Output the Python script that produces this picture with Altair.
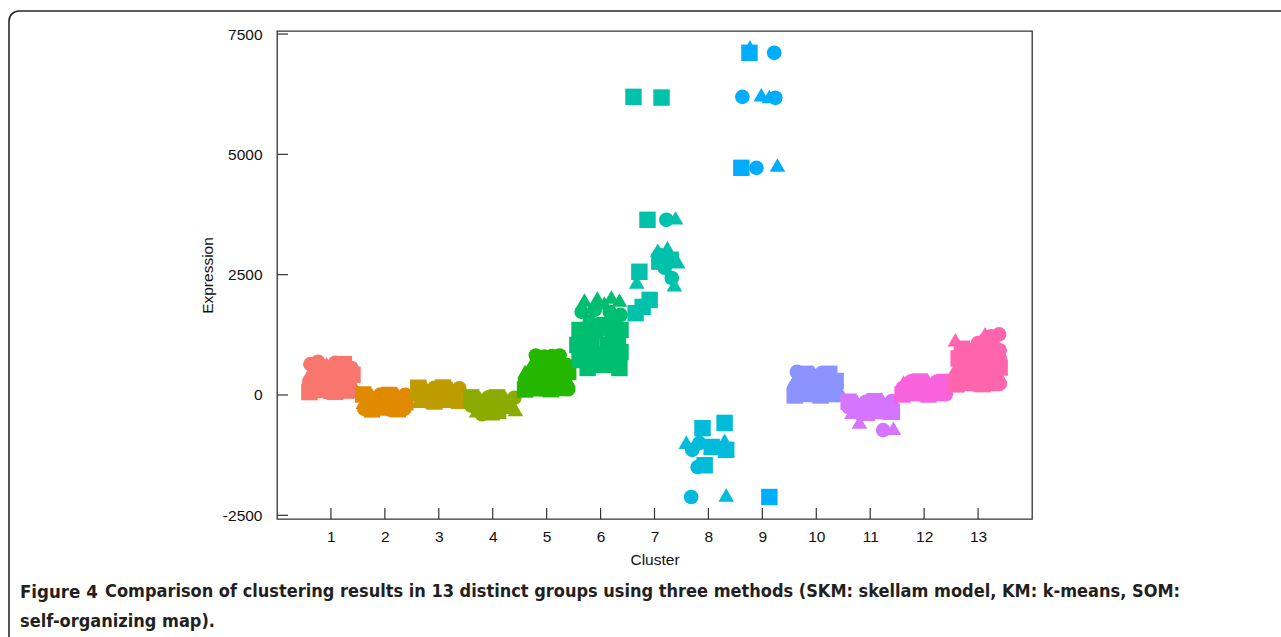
import altair as alt
import pandas as pd

# ---- data: (jitter offset from cluster centre, expression, method)
c1 = [(-0.40, 60, "SOM"), (-0.24, 70, "KM"), (-0.08, 60, "SKM"), (0.08, 65, "SOM"), (0.24, 60, "KM"), (0.40, 70, "SKM"),
      (-0.40, 250, "SKM"), (-0.24, 240, "SOM"), (-0.08, 260, "KM"), (0.08, 250, "SKM"), (0.24, 245, "SOM"), (0.40, 255, "KM"),
      (-0.40, 440, "KM"), (-0.24, 450, "SKM"), (-0.08, 430, "SOM"), (0.08, 445, "KM"), (0.24, 440, "SKM"), (0.40, 420, "SOM"),
      (-0.38, 640, "SKM"), (-0.24, 690, "SKM"), (-0.08, 650, "KM"), (0.08, 670, "SKM"), (0.24, 640, "SOM"), (0.38, 560, "SKM")]
c2 = [(-0.40, 10, "SOM"), (-0.24, 5, "KM"), (-0.08, 10, "SKM"), (0.08, 0, "SOM"), (0.24, 10, "KM"), (0.38, 5, "SKM"),
      (-0.40, -150, "KM"), (-0.24, -150, "SKM"), (-0.08, -140, "SOM"), (0.08, -150, "KM"), (0.24, -145, "SKM"), (0.38, -150, "SOM"),
      (-0.38, -290, "SKM"), (-0.24, -300, "SOM"), (-0.08, -290, "KM"), (0.08, -300, "SKM"), (0.24, -295, "SOM"), (0.36, -290, "SKM")]
c3 = [(-0.38, 150, "SOM"), (-0.24, 160, "KM"), (-0.08, 150, "SKM"), (0.08, 155, "SOM"), (0.24, 150, "KM"), (0.38, 140, "SKM"),
      (-0.40, 0, "SKM"), (-0.24, 0, "SOM"), (-0.08, 10, "KM"), (0.08, 0, "SKM"), (0.24, 5, "SOM"), (0.40, 0, "KM"),
      (-0.38, -130, "KM"), (-0.24, -130, "SKM"), (-0.08, -135, "SOM"), (0.08, -130, "KM"), (0.24, -130, "SKM"), (0.38, -120, "SOM")]
c4 = [(-0.40, -50, "SOM"), (-0.24, -45, "KM"), (-0.08, -50, "SKM"), (0.08, -50, "SOM"), (0.24, -55, "KM"), (0.40, -60, "SKM"),
      (-0.40, -220, "SKM"), (-0.24, -220, "SOM"), (-0.08, -215, "KM"), (0.08, -220, "SKM"), (0.24, -225, "SOM"), (0.42, -300, "KM"),
      (-0.30, -330, "KM"), (-0.12, -340, "SKM"), (0.10, -330, "SOM"), (-0.20, -400, "SKM"), (0.00, -390, "KM")]
c5 = [(-0.40, 115, "SOM"), (-0.24, 110, "KM"), (-0.08, 115, "SKM"), (0.08, 120, "SOM"), (0.24, 115, "KM"), (0.40, 120, "SKM"),
      (-0.40, 300, "SKM"), (-0.24, 300, "SOM"), (-0.08, 310, "KM"), (0.08, 300, "SKM"), (0.24, 305, "SOM"), (0.40, 300, "KM"),
      (-0.40, 490, "KM"), (-0.24, 500, "SKM"), (-0.08, 490, "SOM"), (0.08, 495, "KM"), (0.24, 490, "SKM"), (0.40, 480, "SOM"),
      (-0.26, 680, "KM"), (-0.08, 690, "SOM"), (0.08, 680, "SKM"), (0.24, 690, "KM"), (0.38, 620, "SKM"),
      (-0.20, 820, "SKM"), (-0.04, 800, "SKM"), (0.10, 810, "SKM"), (0.24, 820, "SKM")]
c6 = [(-0.30, 1975, "KM"), (-0.06, 2017, "KM"), (0.20, 2037, "KM"), (0.35, 1975, "KM"), (0.07, 1913, "KM"),
      (-0.35, 1726, "SKM"), (-0.11, 1767, "SKM"), (0.17, 1726, "SKM"), (0.37, 1663, "SKM"), (-0.20, 1518, "SKM"), (0.26, 1455, "SKM"),
      (-0.39, 1351, "SOM"), (-0.43, 1040, "SOM"), (-0.39, 728, "SOM"), (-0.17, 1143, "SOM"), (-0.11, 832, "SOM"),
      (0.13, 1040, "SOM"), (0.32, 1143, "SOM"), (0.37, 894, "SOM"), (0.26, 624, "SOM"), (0.35, 560, "SOM"),
      (-0.02, 624, "SOM"), (-0.24, 561, "SOM"), (0.07, 1455, "SOM"), (0.37, 1351, "SOM"),
      (-0.05, 1300, "SKM"), (-0.25, 900, "SOM"), (0.10, 800, "SOM"), (0.20, 1250, "SKM"), (-0.30, 1250, "SOM")]
c7 = [(-0.39, 6195, "SOM"), (0.13, 6180, "SOM"), (-0.13, 3640, "SOM"), (-0.28, 2560, "SOM"), (-0.09, 1975, "SOM"),
      (-0.22, 1830, "SOM"), (-0.35, 1700, "SOM"), (0.09, 2770, "SOM"), (0.30, 2810, "SOM"),
      (0.22, 3640, "SKM"), (0.19, 2640, "SKM"), (0.32, 2430, "SKM"), (0.09, 2910, "SKM"),
      (0.39, 3680, "KM"), (0.24, 3060, "KM"), (0.43, 2770, "KM"), (-0.33, 2350, "KM"), (0.37, 2290, "KM"), (0.06, 3010, "KM")]
c8 = [(-0.32, -2120, "SKM"), (0.33, -2080, "KM"),
      (-0.11, -690, "SOM"), (0.30, -580, "SOM"), (-0.41, -980, "KM"), (-0.30, -1140, "SKM"), (-0.17, -1000, "SKM"),
      (0.06, -1080, "SOM"), (0.30, -940, "KM"), (0.33, -1140, "SOM"), (-0.07, -1460, "SOM"), (-0.20, -1500, "SKM")]
c9 = [(-0.23, 7230, "KM"), (-0.24, 7110, "SOM"), (0.22, 7110, "SKM"),
      (-0.37, 6195, "SKM"), (-0.02, 6237, "KM"), (0.13, 6200, "KM"), (0.24, 6175, "SKM"),
      (-0.39, 4720, "SOM"), (-0.11, 4720, "SKM"), (0.28, 4780, "KM"), (0.13, -2120, "SOM")]
c10 = [(-0.40, -10, "SOM"), (-0.24, -10, "KM"), (-0.08, -5, "SKM"), (0.08, -10, "SOM"), (0.24, -10, "KM"), (0.40, -5, "SKM"),
       (-0.40, 150, "SKM"), (-0.24, 150, "SOM"), (-0.08, 160, "KM"), (0.08, 150, "SKM"), (0.24, 155, "SOM"), (0.40, 140, "KM"),
       (-0.40, 310, "KM"), (-0.24, 310, "SKM"), (-0.08, 315, "SOM"), (0.08, 310, "KM"), (0.24, 310, "SKM"), (0.36, 290, "SOM"),
       (-0.36, 480, "SKM"), (-0.20, 440, "SOM"), (-0.04, 450, "KM"), (0.10, 455, "SKM"), (0.24, 440, "SOM")]
c11 = [(-0.40, -140, "SOM"), (-0.24, -135, "KM"), (-0.08, -140, "SKM"), (0.08, -130, "SOM"), (0.24, -130, "KM"), (0.40, -125, "SKM"),
       (-0.40, -250, "SKM"), (-0.24, -250, "SOM"), (-0.08, -255, "KM"), (0.08, -250, "SKM"), (0.24, -245, "SOM"), (0.40, -250, "KM"),
       (-0.34, -360, "KM"), (-0.20, -380, "SKM"), (-0.06, -370, "SOM"), (0.08, -365, "KM"), (0.24, -360, "SKM"), (0.40, -350, "SOM"),
       (-0.20, -560, "KM"), (0.24, -730, "SKM"), (0.43, -690, "KM")]
c12 = [(-0.40, 10, "SOM"), (-0.24, 10, "KM"), (-0.08, 15, "SKM"), (0.08, 10, "SOM"), (0.24, 10, "KM"), (0.40, 15, "SKM"),
       (-0.40, 140, "SKM"), (-0.24, 145, "SOM"), (-0.08, 140, "KM"), (0.08, 140, "SKM"), (0.24, 145, "SOM"), (0.40, 140, "KM"),
       (-0.38, 270, "KM"), (-0.24, 285, "SKM"), (-0.08, 280, "SOM"), (0.08, 285, "KM"), (0.24, 280, "SKM"), (0.38, 270, "SOM")]
c13 = [(-0.40, 220, "SOM"), (-0.24, 215, "KM"), (-0.08, 220, "SKM"), (0.08, 225, "SOM"), (0.24, 220, "KM"), (0.40, 230, "SKM"),
       (-0.40, 400, "SKM"), (-0.24, 400, "SOM"), (-0.08, 410, "KM"), (0.08, 400, "SKM"), (0.24, 405, "SOM"), (0.40, 400, "KM"),
       (-0.40, 580, "KM"), (-0.24, 590, "SKM"), (-0.08, 580, "SOM"), (0.08, 585, "KM"), (0.24, 580, "SKM"), (0.40, 570, "SOM"),
       (-0.36, 760, "SOM"), (-0.24, 770, "KM"), (-0.08, 760, "SKM"), (0.08, 765, "SOM"), (0.24, 760, "KM"), (0.40, 770, "SKM"),
       (-0.10, 940, "SKM"), (0.08, 950, "SOM"), (0.24, 940, "KM"), (0.40, 930, "SKM"), (-0.30, 960, "SOM"),
       (0.00, 1080, "SKM"), (0.18, 1090, "SOM"), (0.34, 1080, "KM"),
       (-0.42, 1150, "KM"), (0.13, 1270, "KM"), (0.39, 1260, "SKM"), (0.24, 1220, "SKM")]

clusters = [c1, c2, c3, c4, c5, c6, c7, c8, c9, c10, c11, c12, c13]
cluster_colors = ["#F8766D", "#E18A00", "#BE9C00", "#8CAB00", "#24B700", "#00BE70", "#00C1AB",
                  "#00BBDA", "#00ACFC", "#8B93FF", "#D575FE", "#F962DD", "#FF65AC"]
methods = ["SKM", "KM", "SOM"]
method_shapes = ["circle", "triangle-up", "square"]
method_sizes = [215, 270, 215]
x_ticks = list(range(1, 14))
y_ticks = [-2500, 0, 2500, 5000, 7500]
caption_lead = "Figure 4"
caption_line1 = "Comparison of clustering results in 13 distinct groups using three methods (SKM: skellam model, KM: k-means, SOM:"
caption_line2 = "self-organizing map)."

rows = []
for k, pts in enumerate(clusters, start=1):
    for off, val, m in pts:
        rows.append({"cluster": str(k), "pos": k + off, "value": val, "method": m})
df = pd.DataFrame(rows)

W, H = 755, 488
FONT = "Liberation Sans"
xs = alt.Scale(domain=[0, 14], nice=False, zero=False)
ys = alt.Scale(domain=[-2577, 7563], nice=False, zero=False)

points = alt.Chart(df).mark_point(filled=True, opacity=1, strokeWidth=0).encode(
    x=alt.X("pos:Q", scale=xs, title="Cluster",
            axis=alt.Axis(values=x_ticks, ticks=False, domain=False, grid=False, labelPadding=10,
                          labelFontSize=15.5, labelFont=FONT, labelColor="#111", titleFont=FONT,
                          titleFontSize=15.5, titleFontWeight="normal", titleColor="#111", titlePadding=8)),
    y=alt.Y("value:Q", scale=ys, title="Expression",
            axis=alt.Axis(values=y_ticks, ticks=False, domain=False, grid=False, labelPadding=15,
                          labelExpr="datum.value < 0 ? '-' + format(-datum.value, 'd') : format(datum.value, 'd')",
                          labelFontSize=15.5, labelFont=FONT, labelColor="#111", titleFont=FONT,
                          titleFontSize=15.5, titleFontWeight="normal", titleColor="#111",
                          titleX=-70, titleY=244, titleAngle=270, titleAlign="center", titleBaseline="middle")),
    color=alt.Color("cluster:N", scale=alt.Scale(domain=[str(i) for i in x_ticks], range=cluster_colors), legend=None),
    size=alt.Size("method:N", scale=alt.Scale(domain=methods, range=method_sizes), legend=None),
    shape=alt.Shape("method:N", scale=alt.Scale(domain=methods, range=method_shapes),
                    legend=alt.Legend(title=None, orient="none", legendX=766, legendY=243,
                                      symbolFillColor="black", symbolStrokeColor="black", symbolStrokeWidth=0,
                                      symbolSize=70, labelFontSize=15.5, labelFont=FONT, labelColor="#111",
                                      rowPadding=19, labelOffset=12)),
    order=alt.Order("order_idx:Q"),
).transform_window(order_idx="row_number()")

xt = alt.Chart(pd.DataFrame({"t": x_ticks})).mark_rule(color="#333", strokeWidth=1.2).encode(
    x=alt.X("t:Q", scale=xs), y=alt.value(H), y2=alt.value(H - 11))
yt = alt.Chart(pd.DataFrame({"t": y_ticks})).mark_rule(color="#333", strokeWidth=1.2).encode(
    y=alt.Y("t:Q", scale=ys), x=alt.value(0), x2=alt.value(11))

one = pd.DataFrame({"a": [0]})
frame = alt.Chart(one).mark_rect(fillOpacity=0, stroke="#2a2a2a", strokeWidth=1.6, cornerRadius=10).encode(
    x=alt.value(-268), x2=alt.value(1100), y=alt.value(-20), y2=alt.value(700))
cap_font = "Liberation Sans Narrow, DejaVu Sans Condensed, Roboto Condensed, Liberation Sans"
cap_a = alt.Chart(one).mark_text(align="left", baseline="middle", fontSize=18.5, fontWeight="bold",
                                 font=cap_font, color="#231f20").encode(
    x=alt.value(-257), y=alt.value(561), text=alt.value(caption_lead))
cap_b = alt.Chart(one).mark_text(align="left", baseline="middle", fontSize=18, fontWeight="bold",
                                 font=cap_font, color="#231f20").encode(
    x=alt.value(-172), y=alt.value(561), text=alt.value(caption_line1))
cap_c = alt.Chart(one).mark_text(align="left", baseline="middle", fontSize=18, fontWeight="bold",
                                 font=cap_font, color="#231f20").encode(
    x=alt.value(-257), y=alt.value(591), text=alt.value(caption_line2))

chart = alt.layer(frame, points, xt, yt, cap_a, cap_b, cap_c).properties(
    width=W, height=H,
    autosize=alt.AutoSizeParams(type="none"),
    padding={"left": 277, "top": 31, "right": 249, "bottom": 118},
    background="white",
).configure_view(stroke="#333", strokeWidth=1.3)

chart.save("out.html", embed_options={"renderer": "svg", "actions": False})
